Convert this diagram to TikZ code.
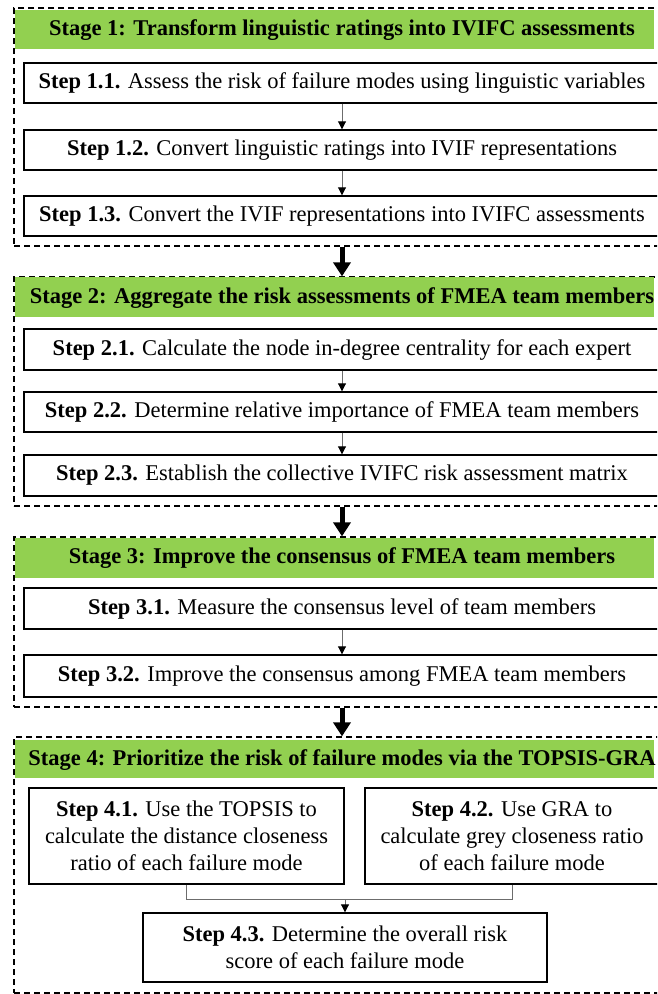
\documentclass[tikz,border=0pt]{standalone}
\usepackage{fontspec}
\setmainfont{Liberation Serif}
\usetikzlibrary{arrows.meta}
\definecolor{hgreen}{RGB}{146,208,80}
\begin{document}
\begin{tikzpicture}[x=1pt,y=-1pt,
  stepbox/.style={draw=black, line width=1.4pt, fill=white, inner sep=0pt, align=center,
    font=\fontsize{22.5}{27}\selectfont},
  stagebox/.style={draw=black, line width=1.3pt, dash pattern=on 6pt off 4pt, inner sep=0pt},
  stagehead/.style={inner sep=0pt, font=\fontsize{22.5}{27}\selectfont\bfseries},
  gfill/.style={fill=hgreen},
  smallarrow/.style={draw=gray!85!black, line width=0.9pt, -{Triangle[length=8pt,width=8pt,color=black]}},
  plainline/.style={draw=gray!85!black, line width=0.9pt},
  bigarrow/.style={draw=black, line width=5pt, -{Triangle[length=14pt,width=17pt]}}]
\useasboundingbox (0,0) rectangle (657,994);
\clip (0,0) rectangle (657,994);

% Stage boxes
\node[stagebox, minimum width=656pt, minimum height=238pt] (s1) at (342,127) {};
\node[stagebox, minimum width=656pt, minimum height=229pt] (s2) at (342,391.5) {};
\node[stagebox, minimum width=656pt, minimum height=170pt] (s3) at (342,622) {};
\node[stagebox, minimum width=656pt, minimum height=256pt] (s4) at (342,865) {};

% Green headers
\fill[gfill] (15,10) rectangle (654,49);
\fill[gfill] (15,277) rectangle (654,317);
\fill[gfill] (15,538) rectangle (654,578);
\fill[gfill] (15,740) rectangle (654,778);
\node[stagehead] (h1) at (342,30) {Stage 1: Transform linguistic ratings into IVIFC assessments};
\node[stagehead] (h2) at (342,298) {Stage 2: Aggregate the risk assessments of FMEA team members};
\node[stagehead] (h3) at (342,558) {Stage 3: Improve the consensus of FMEA team members};
\node[stagehead] (h4) at (342,760) {Stage 4: Prioritize the risk of failure modes via the TOPSIS-GRA};

% Stage 1 steps
\node[stepbox, minimum width=636pt, minimum height=40pt] (b11) at (342,83) {\textbf{Step 1.1.} Assess the risk of failure modes using linguistic variables};
\node[stepbox, minimum width=636pt, minimum height=40pt] (b12) at (342,150) {\textbf{Step 1.2.} Convert linguistic ratings into IVIF representations};
\node[stepbox, minimum width=636pt, minimum height=40pt] (b13) at (342,216) {\textbf{Step 1.3.} Convert the IVIF representations into IVIFC assessments};

% Stage 2 steps
\node[stepbox, minimum width=636pt, minimum height=41pt] (b21) at (342,349.5) {\textbf{Step 2.1.} Calculate the node in-degree centrality for each expert};
\node[stepbox, minimum width=636pt, minimum height=40pt] (b22) at (342,412) {\textbf{Step 2.2.} Determine relative importance of FMEA team members};
\node[stepbox, minimum width=636pt, minimum height=41pt] (b23) at (342,475.5) {\textbf{Step 2.3.} Establish the collective IVIFC risk assessment matrix};

% Stage 3 steps
\node[stepbox, minimum width=636pt, minimum height=41pt] (b31) at (342,608.5) {\textbf{Step 3.1.} Measure the consensus level of team members};
\node[stepbox, minimum width=636pt, minimum height=42pt] (b32) at (342,676) {\textbf{Step 3.2.} Improve the consensus among FMEA team members};

% Stage 4 steps
\node[stepbox, minimum width=315pt, minimum height=96pt] (b41) at (186.5,836) {\textbf{Step 4.1.} Use the TOPSIS to\\calculate the distance closeness\\ratio of each failure mode};
\node[stepbox, minimum width=294pt, minimum height=96pt] (b42) at (512,836) {\textbf{Step 4.2.} Use GRA to\\calculate grey closeness ratio\\of each failure mode};
\node[stepbox, minimum width=404pt, minimum height=69pt] (b43) at (345,947.5) {\textbf{Step 4.3.} Determine the overall risk\\score of each failure mode};

% Small arrows
\draw[smallarrow] (b11.south) -- (b12.north);
\draw[smallarrow] (b12.south) -- (b13.north);
\draw[smallarrow] (b21.south) -- (b22.north);
\draw[smallarrow] (b22.south) -- (b23.north);
\draw[smallarrow] (b31.south) -- (b32.north);
\draw[plainline] (b41.south) -- ++(0,15) -| (b42.south);
\coordinate (j) at (b43.north |- 0,899);
\draw[smallarrow] (j) -- (b43.north);

% Big arrows
\draw[bigarrow] (s1.south) -- (s2.north);
\draw[bigarrow] (s2.south) -- (s3.north);
\draw[bigarrow] (s3.south) -- (s4.north);
\end{tikzpicture}
\end{document}
